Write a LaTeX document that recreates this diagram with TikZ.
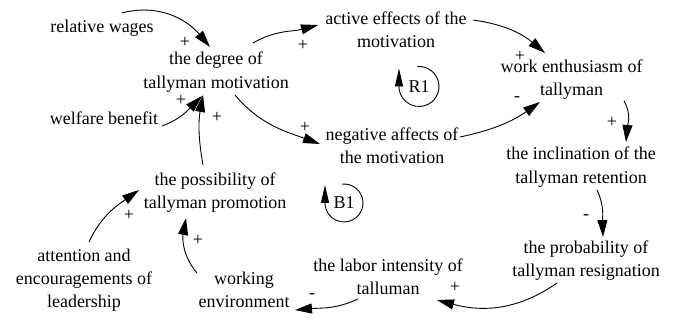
\documentclass[tikz,border=0pt]{standalone}
\usepackage{fontspec}
\setmainfont{Liberation Serif}
\newfontfamily\diagfont{Liberation Serif}
\usetikzlibrary{arrows.meta}
\begin{document}
\begin{tikzpicture}[x=1pt,y=1pt,
  font=\diagfont\fontsize{18}{23.3}\selectfont,
  var/.style={align=center, inner sep=0pt},
  pol/.style={inner sep=0pt},
  link/.style={line width=0.9pt, -{Triangle[length=17pt,width=10pt]}},
  loopar/.style={line width=0.9pt, -{Triangle[length=18pt,width=8pt]}}]
\useasboundingbox (0,0) rectangle (675,-320);

% variables
\node[var] (rw)    at (102,-28)    {relative wages};
\node[var] (deg)   at (216,-72)    {the degree of\\tallyman motivation};
\node[var] (wel)   at (104,-118)   {welfare benefit};
\node[var] (act)   at (396,-29.5)  {active effects of the\\motivation};
\node[var] (work)  at (571.5,-79.5){work enthusiasm of\\tallyman};
\node[var] (neg)   at (392,-145.5) {negative affects of\\the motivation};
\node[var] (incl)  at (581,-167)   {the inclination of the\\tallyman retention};
\node[var] (prob)  at (586,-260.5) {the probability of\\tallyman resignation};
\node[var] (labor) at (388,-276.5) {the labor intensity of\\talluman};
\node[var] (env)   at (244,-289.5) {working\\environment};
\node[var] (poss)  at (215,-192.5) {the possibility of\\tallyman promotion};
\node[var] (att)   at (84,-280)    {attention and\\encouragements of\\leadership};

% links
\draw[link] ([shift={(20,15)}]rw.center) to[out=15,in=130] ([shift={(-6,25)}]deg.center);
\draw[link] ([shift={(58,-8)}]wel.center) to[out=20,in=-135] ([shift={(-14,-24)}]deg.center);
\draw[link] ([shift={(-12,27.5)}]poss.center) to[out=100,in=-100] ([shift={(-13,-23)}]deg.center);
\draw[link] ([shift={(37,29)}]deg.center) to[out=30,in=-165] ([shift={(-78,4.5)}]act.center);
\draw[link] ([shift={(19,-23)}]deg.center) to[out=-50,in=160] ([shift={(-72,1.5)}]neg.center);
\draw[link] ([shift={(77,9.5)}]act.center) to[out=-8,in=140] ([shift={(-26.5,26.5)}]work.center);
\draw[link] ([shift={(68,8.5)}]neg.center) to[out=12,in=-145] ([shift={(-31.5,-22.5)}]work.center);
\draw[link] ([shift={(52.5,-21.5)}]work.center) to[out=-60,in=85] ([shift={(45,25)}]incl.center);
\draw[link] ([shift={(16,-23)}]incl.center) to[out=-65,in=92] ([shift={(17,23.5)}]prob.center);
\draw[link] ([shift={(-29,-22.5)}]prob.center) to[out=-145,in=-15] ([shift={(49,-23.5)}]labor.center);
\draw[link] ([shift={(-30,-22.5)}]labor.center) to[out=-155,in=5] ([shift={(51,-20.5)}]env.center);
\draw[link] ([shift={(-47,16.5)}]env.center) to[out=130,in=-100] ([shift={(-29,-25.5)}]poss.center);
\draw[link] ([shift={(5,38)}]att.center) to[out=65,in=-145] ([shift={(-76,2.5)}]poss.center);

% polarities
\node[pol] (pA) at (185,-42)  {+};
\node[pol] (pB) at (181,-100) {+};
\node[pol] (pC) at (217,-117) {+};
\node[pol] (pD) at (303,-45)  {+};
\node[pol] (pE) at (305,-127) {+};
\node[pol] (pF) at (520,-56)  {+};
\node[pol] (pG) at (517,-99)  {-};
\node[pol] (pH) at (612,-122) {+};
\node[pol] (pI) at (586,-217) {-};
\node[pol] (pJ) at (455,-287) {+};
\node[pol] (pK) at (312,-296) {-};
\node[pol] (pL) at (198,-240) {+};
\node[pol] (pM) at (129,-215) {+};

% loop markers
\node[pol] (R1) at (419,-86.5) {R1};
\draw[loopar] ([shift={(95:20pt)}]R1.center) arc[start angle=95,end angle=-180,radius=20pt] -- ++(0,18);
\node[pol] (B1) at (344,-203) {B1};
\draw[loopar] ([shift={(95:19pt)}]B1.center) arc[start angle=95,end angle=-180,radius=19pt] -- ++(0,18);
\end{tikzpicture}
\end{document}
